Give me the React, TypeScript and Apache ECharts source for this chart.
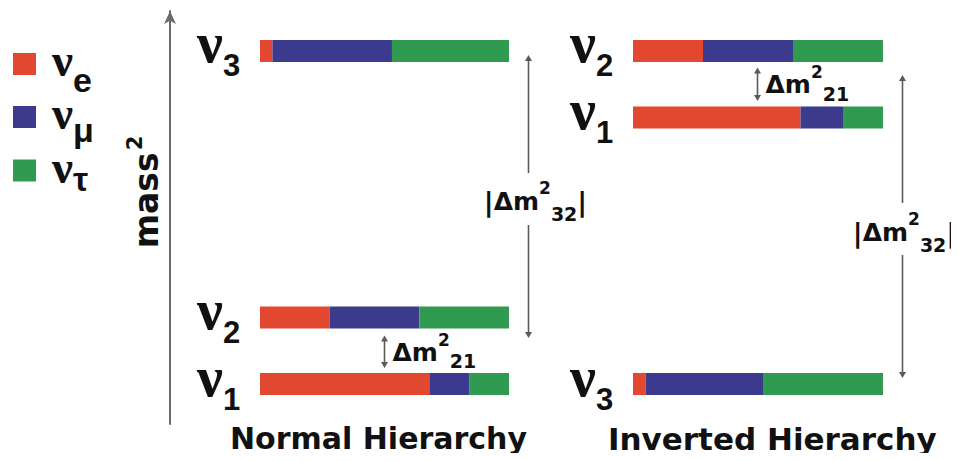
import React, { useEffect, useRef } from 'react';
import * as echarts from 'echarts';

// ---------------- data ----------------
const flavorNames = ['νe', 'νμ', 'ντ'];
const flavorSubs = ['e', 'μ', 'τ'];

const nhStates = ['1', '2', '3'];
const nhMass2 = [0, 1, 5];
const nhE = [0.68, 0.28, 0.05];
const nhMu = [0.16, 0.36, 0.48];
const nhTau = [0.16, 0.36, 0.47];

const ihStates = ['1', '2', '3'];
const ihMass2 = [4, 5, 0];
const ihE = [0.67, 0.28, 0.05];
const ihMu = [0.17, 0.36, 0.47];
const ihTau = [0.16, 0.36, 0.48];

const hierarchyTitles = ['Normal Hierarchy', 'Inverted Hierarchy'];
const splitLabels = ['32', '21'];
const massAxisName = 'mass';

// ---------------- style ----------------
const flavorColors = ['#e2472f', '#3b3a8c', '#2f9a50'];
const INK = '#111111';
const ARROW = '#5a5a5a';
const BAR_H = 22;
const Y_MIN = -0.6;
const Y_MAX = 5.6;
const BIG_X = 1.076;
const SMALL_X = 0.497;
const NU_FONT = 'Liberation Serif';

function buildSegments(e: number[], mu: number[], tau: number[], mass2: number[]) {
  const out: number[][][] = [[], [], []];
  mass2.forEach((m, i) => {
    const parts = [e[i], mu[i], tau[i]];
    let s = 0;
    parts.forEach((w, f) => {
      out[f].push([s, s + w, m]);
      s += w;
    });
  });
  return out;
}

const renderBar = (params: any, api: any) => {
  const m = api.value(2);
  const a = api.coord([api.value(0), m]);
  const b = api.coord([api.value(1), m]);
  return {
    type: 'rect',
    shape: { x: a[0], y: a[1] - BAR_H / 2, width: b[0] - a[0], height: BAR_H },
    style: { fill: api.visual('color') },
  };
};

const stateRich = {
  n: { fontFamily: NU_FONT, fontWeight: 'bold', fontSize: 58, lineHeight: 30, padding: [0, 0, 16, 0], fill: INK, verticalAlign: 'middle' },
  s: { fontFamily: 'Liberation Sans', fontWeight: 'bold', fontSize: 31, lineHeight: 24, padding: [30, 0, 0, 0], fill: INK, verticalAlign: 'middle' },
};

const makeStateRender = (states: string[]) => (params: any, api: any) => {
  const p = api.coord([0, api.value(1)]);
  return {
    type: 'text',
    x: p[0] - 63,
    y: p[1],
    style: {
      text: `{n|ν}{s|${states[params.dataIndex]}}`,
      rich: stateRich,
      fill: INK,
      align: 'left',
      verticalAlign: 'middle',
    },
  };
};

const bigRich = {
  bar: { fontFamily: 'DejaVu Sans', fontWeight: 'bold', fontSize: 27, lineHeight: 30, fill: INK, verticalAlign: 'middle' },
  t: { fontFamily: 'DejaVu Sans', fontWeight: 'bold', fontSize: 25, lineHeight: 28, fill: INK, verticalAlign: 'middle' },
  sup: { fontFamily: 'DejaVu Sans', fontWeight: 'bold', fontSize: 17, lineHeight: 17, padding: [0, 0, 27, 0], fill: INK, verticalAlign: 'middle' },
  sub: { fontFamily: 'DejaVu Sans', fontWeight: 'bold', fontSize: 19, lineHeight: 19, padding: [25, 0, 0, 0], fill: INK, verticalAlign: 'middle' },
};
const smallRich = {
  t: { fontFamily: 'DejaVu Sans', fontWeight: 'bold', fontSize: 25, lineHeight: 28, fill: INK, verticalAlign: 'middle' },
  sup: { fontFamily: 'DejaVu Sans', fontWeight: 'bold', fontSize: 17, lineHeight: 17, padding: [0, 0, 25, 0], fill: INK, verticalAlign: 'middle' },
  sub: { fontFamily: 'DejaVu Sans', fontWeight: 'bold', fontSize: 19, lineHeight: 19, padding: [18, 0, 0, 0], fill: INK, verticalAlign: 'middle' },
};

type ArrowCfg = { topPad: number; botPad: number; big: boolean; labelDx: number };

const makeArrowRender = (cfg: ArrowCfg) => (params: any, api: any) => {
  const x = api.value(0);
  const pt = api.coord([x, api.value(2)]);
  const pb = api.coord([x, api.value(1)]);
  const px = Math.round(pt[0]) + 0.5;
  const y1 = pt[1] + cfg.topPad;
  const y2 = pb[1] + cfg.botPad;
  const mid = (y1 + y2) / 2;
  const head = 6;
  const hw = 3.5;
  const lineStyle = { stroke: ARROW, lineWidth: 1.6 };
  const children: any[] = [];
  if (cfg.big) {
    const gc = mid + 2.5;
    children.push({ type: 'line', shape: { x1: px, y1: y1 + head - 1, x2: px, y2: gc - 26 }, style: lineStyle });
    children.push({ type: 'line', shape: { x1: px, y1: gc + 26, x2: px, y2: y2 - head + 1 }, style: lineStyle });
  } else {
    children.push({ type: 'line', shape: { x1: px, y1: y1 + head - 1, x2: px, y2: y2 - head + 1 }, style: lineStyle });
  }
  children.push({ type: 'polygon', shape: { points: [[px, y1], [px - hw, y1 + head], [px + hw, y1 + head]] }, style: { fill: ARROW } });
  children.push({ type: 'polygon', shape: { points: [[px, y2], [px - hw, y2 - head], [px + hw, y2 - head]] }, style: { fill: ARROW } });
  if (cfg.big) {
    children.push({
      type: 'text',
      x: px + cfg.labelDx,
      y: mid + 5.5,
      style: {
        text: `{bar||}{t|Δm}{sup|2}{sub|${splitLabels[0]}}{bar||}`,
        rich: bigRich,
        fill: INK,
        align: 'center',
        verticalAlign: 'middle',
      },
    });
  } else {
    children.push({
      type: 'text',
      x: px + 8,
      y: mid + 0.5,
      style: {
        text: `{t|Δm}{sup|2}{sub|${splitLabels[1]}}`,
        rich: smallRich,
        fill: INK,
        align: 'left',
        verticalAlign: 'middle',
      },
    });
  }
  return { type: 'group', children };
};

const legendRich = {
  n: { fontFamily: NU_FONT, fontWeight: 'bold', fontSize: 47, lineHeight: 30, padding: [0, 0, 8, 11], color: INK, verticalAlign: 'middle' },
  s0: { fontFamily: 'Liberation Sans', fontWeight: 'bold', fontSize: 34, lineHeight: 24, padding: [31, 0, 0, 0], color: INK, verticalAlign: 'middle' },
  s1: { fontFamily: 'Liberation Sans', fontWeight: 'bold', fontSize: 34, lineHeight: 24, padding: [25, 0, 0, 0], color: INK, verticalAlign: 'middle' },
  s2: { fontFamily: 'Liberation Sans', fontWeight: 'bold', fontSize: 34, lineHeight: 24, padding: [16, 0, 0, 0], color: INK, verticalAlign: 'middle' },
};
const legendTops = [31.5, 87.5, 143];

export default function App() {
  const ref = useRef<HTMLDivElement>(null);

  useEffect(() => {
    if (!ref.current) return;
    const chart = echarts.init(ref.current, null, { renderer: 'svg' });

    const nhSeg = buildSegments(nhE, nhMu, nhTau, nhMass2);
    const ihSeg = buildSegments(ihE, ihMu, ihTau, ihMass2);

    const barSeries: any[] = [];
    [nhSeg, ihSeg].forEach((seg, g) => {
      seg.forEach((data, f) => {
        barSeries.push({
          type: 'custom',
          name: flavorNames[f],
          xAxisIndex: g,
          yAxisIndex: g,
          itemStyle: { color: flavorColors[f] },
          encode: { x: [0, 1], y: 2 },
          data,
          clip: false,
          renderItem: renderBar,
        });
      });
    });

    const stateSeries = [
      { states: nhStates, mass2: nhMass2, g: 0 },
      { states: ihStates, mass2: ihMass2, g: 1 },
    ].map((s) => ({
      type: 'custom',
      name: 'states' + s.g,
      xAxisIndex: s.g,
      yAxisIndex: s.g,
      silent: true,
      clip: false,
      encode: { x: 0, y: 1 },
      data: s.mass2.map((m) => [0, m]),
      renderItem: makeStateRender(s.states),
    }));

    const arrowSeries = [
      { g: 0, data: [[BIG_X, nhMass2[1], nhMass2[2]]], cfg: { topPad: 4, botPad: 20.6, big: true, labelDx: 7 } },
      { g: 0, data: [[SMALL_X, nhMass2[0], nhMass2[1]]], cfg: { topPad: 18, botPad: -16, big: false, labelDx: 0 } },
      { g: 1, data: [[BIG_X, ihMass2[2], ihMass2[1]]], cfg: { topPad: 24, botPad: -6, big: true, labelDx: 2 } },
      { g: 1, data: [[SMALL_X, ihMass2[0], ihMass2[1]]], cfg: { topPad: 16.5, botPad: -16.5, big: false, labelDx: 0 } },
    ].map((a, i) => ({
      type: 'custom',
      name: 'split' + i,
      xAxisIndex: a.g,
      yAxisIndex: a.g,
      silent: true,
      clip: false,
      encode: { x: 0, y: [1, 2] },
      data: a.data,
      renderItem: makeArrowRender(a.cfg as ArrowCfg),
    }));

    const option: any = {
      animation: false,
      backgroundColor: '#ffffff',
      grid: [
        { left: 260, right: 450, top: 11, bottom: 37 },
        { left: 633, right: 76, top: 11, bottom: 37 },
      ],
      xAxis: [
        { gridIndex: 0, type: 'value', min: 0, max: 1, show: false },
        { gridIndex: 1, type: 'value', min: 0, max: 1, show: false },
      ],
      yAxis: [
        {
          gridIndex: 0,
          type: 'value',
          min: Y_MIN,
          max: Y_MAX,
          position: 'left',
          offset: 90,
          axisLine: {
            show: true,
            onZero: false,
            symbol: ['none', 'arrow'],
            symbolSize: [9, 13],
            lineStyle: { color: '#6b6b6b', width: 2 },
          },
          axisTick: { show: false },
          axisLabel: { show: false },
          splitLine: { show: false },
        },
        { gridIndex: 1, type: 'value', min: Y_MIN, max: Y_MAX, show: false },
      ],
      legend: flavorNames.map((name, i) => ({
        data: [{ name, icon: 'rect', itemStyle: { color: flavorColors[i] } }],
        left: 13,
        top: legendTops[i],
        padding: 0,
        orient: 'vertical',
        itemWidth: 23,
        itemHeight: 22,
        formatter: (n: string) => {
          const k = flavorNames.indexOf(n);
          return `{n|ν}{s${k}|${flavorSubs[k]}}`;
        },
        textStyle: { rich: legendRich },
      })),
      title: [
        {
          text: hierarchyTitles[0],
          left: 230,
          top: 423,
          padding: 0,
          textStyle: { fontFamily: 'DejaVu Sans', fontWeight: 'bold', fontSize: 30, color: INK },
        },
        {
          text: hierarchyTitles[1],
          left: 608,
          top: 423,
          padding: 0,
          textStyle: { fontFamily: 'DejaVu Sans', fontWeight: 'bold', fontSize: 31, color: INK },
        },
      ],
      graphic: [
        {
          type: 'text',
          x: 146,
          y: 192,
          rotation: Math.PI / 2,
          style: {
            text: `{m|${massAxisName}}{s|2}`,
            rich: {
              m: { fontFamily: 'DejaVu Sans', fontWeight: 'bold', fontSize: 33, lineHeight: 36, fill: INK, verticalAlign: 'middle' },
              s: { fontFamily: 'DejaVu Sans', fontWeight: 'bold', fontSize: 21, lineHeight: 22, padding: [0, 0, 22, 2], fill: INK, verticalAlign: 'middle' },
            },
            fill: INK,
            align: 'center',
            verticalAlign: 'middle',
          },
        },
      ],
      series: [...barSeries, ...stateSeries, ...arrowSeries],
    };

    chart.setOption(option);
    return () => chart.dispose();
  }, []);

  return <div ref={ref} style={{ width: 959, height: 461, margin: -8 }} />;
}
